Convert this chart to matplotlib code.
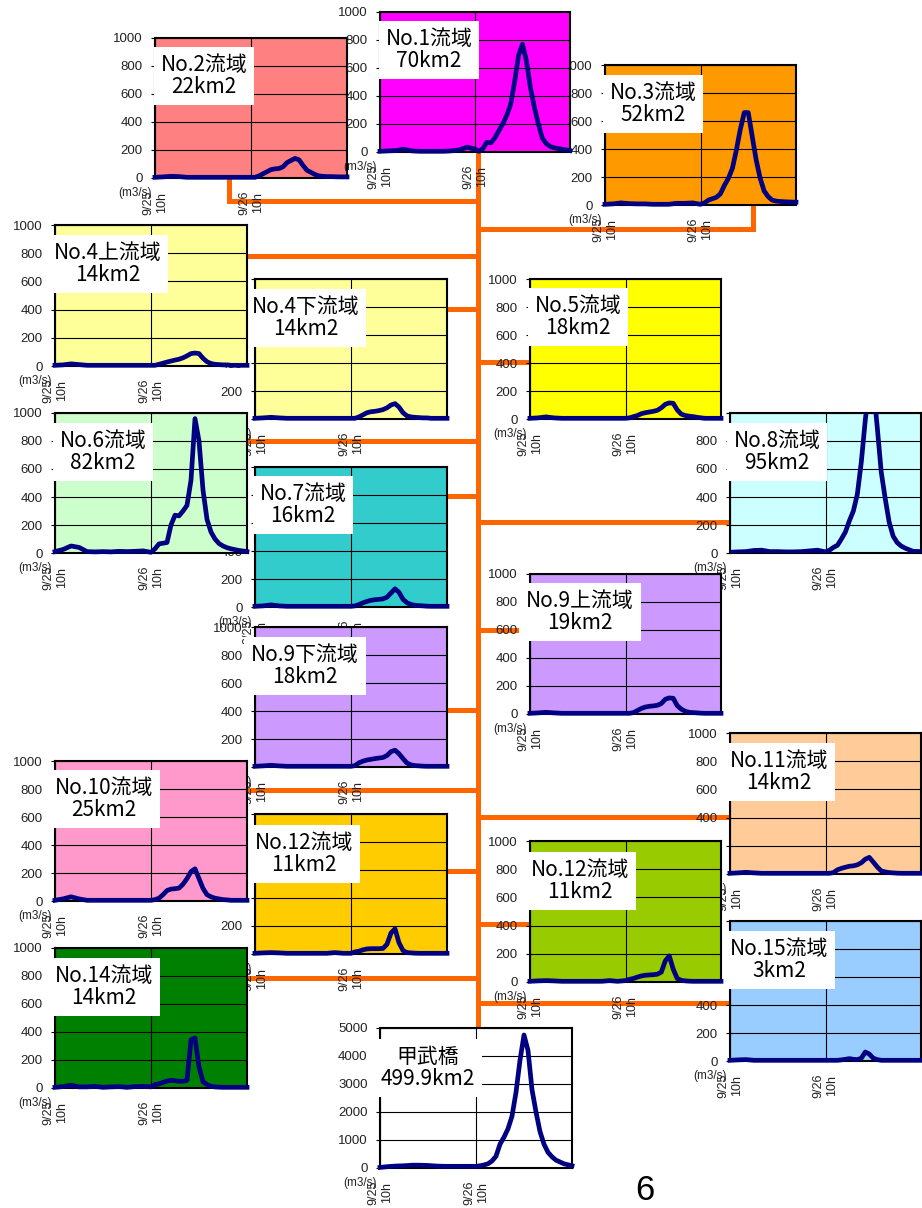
import numpy as np
import matplotlib
matplotlib.use("Agg")
import matplotlib.pyplot as plt

plt.rcParams['font.family'] = ['Liberation Sans', 'Noto Sans CJK JP', 'DejaVu Sans']

# ---------- data (hours from 9/25 10h, discharge m3/s) ----------
hours = [0, 2, 4, 6, 8, 10, 12, 14, 16, 18, 20, 22, 24,
         25, 26, 27, 28, 29, 30, 31, 32, 33, 34, 35, 36, 37, 38, 39, 40, 41, 42, 43, 44,
         46, 48]
xtick_pos = [0, 24, 48]
xtick_labels = ["9/25\n10h", "9/26\n10h", ""]

q_no1 = [5, 8, 10, 20, 8, 5, 5, 5, 5, 8, 15, 35, 20,
         5, 25, 70, 65, 100, 150, 200, 260, 340, 500, 690, 770, 650, 460, 320, 200, 100, 60, 40, 30,
         20, 10]
q_no2 = [5, 8, 12, 10, 5, 5, 5, 5, 5, 5, 5, 5, 5,
         5, 15, 30, 45, 60, 65, 68, 80, 110, 125, 140, 130, 90, 55, 40, 25, 15, 12, 10, 10,
         8, 8]
q_no3 = [5, 8, 15, 10, 8, 8, 5, 5, 5, 12, 12, 15, 5,
         15, 35, 45, 55, 80, 140, 190, 260, 390, 540, 660, 660, 490, 320, 190, 100, 60, 35, 28, 25,
         22, 20]
q_no4u = [5, 8, 15, 10, 5, 5, 5, 5, 5, 5, 5, 5, 5,
          5, 12, 20, 28, 35, 42, 48, 58, 72, 88, 92, 88, 55, 30, 18, 12, 10, 8, 8, 5,
          5, 5]
q_no4d = [5, 8, 12, 8, 5, 5, 5, 5, 5, 5, 5, 5, 5,
          5, 15, 30, 45, 52, 55, 60, 67, 80, 100, 110, 85, 45, 22, 15, 12, 10, 8, 8, 5,
          5, 5]
q_no5 = [5, 8, 15, 8, 5, 5, 5, 5, 5, 5, 5, 5, 5,
         8, 17, 25, 38, 45, 50, 55, 62, 80, 105, 115, 112, 65, 35, 25, 20, 17, 12, 8, 5,
         5, 5]
q_no6 = [10, 25, 50, 40, 10, 8, 10, 8, 12, 10, 12, 15, 5,
         30, 65, 70, 75, 200, 270, 265, 300, 340, 520, 960, 800, 450, 240, 150, 100, 68, 50, 38, 30,
         18, 10]
q_no7 = [5, 8, 15, 8, 5, 5, 5, 5, 5, 5, 5, 5, 5,
         8, 18, 30, 40, 48, 52, 55, 58, 70, 100, 130, 105, 55, 30, 18, 12, 10, 8, 6, 5,
         5, 5]
q_no8 = [5, 8, 10, 18, 20, 10, 10, 8, 8, 10, 15, 20, 8,
         20, 40, 55, 100, 150, 230, 300, 420, 650, 950, 1200, 1200, 900, 580, 390, 220, 120, 75, 50, 35,
         12, 10]
q_no9u = [5, 8, 12, 8, 5, 5, 5, 5, 5, 5, 5, 5, 5,
          5, 10, 25, 40, 50, 55, 58, 62, 75, 105, 115, 112, 60, 35, 20, 12, 10, 8, 6, 5,
          5, 5]
q_no9d = [5, 8, 12, 8, 5, 5, 5, 5, 5, 5, 5, 5, 5,
          10, 30, 42, 50, 55, 60, 64, 68, 82, 110, 120, 95, 60, 28, 15, 10, 8, 6, 5, 5,
          5, 5]
q_no10 = [5, 15, 30, 15, 5, 5, 5, 5, 5, 5, 5, 5, 5,
          10, 20, 45, 75, 85, 88, 92, 120, 160, 210, 230, 160, 90, 45, 30, 20, 15, 10, 8, 5,
          5, 5]
q_no11 = [5, 8, 12, 8, 5, 5, 5, 5, 5, 5, 5, 5, 5,
          5, 10, 30, 40, 48, 55, 58, 65, 80, 105, 118, 85, 50, 22, 15, 10, 8, 6, 5, 5,
          5, 5]
q_no12a = [5, 8, 10, 8, 5, 5, 5, 5, 5, 5, 10, 5, 5,
           15, 20, 30, 36, 38, 38, 38, 40, 70, 150, 180, 80, 25, 10, 8, 6, 5, 5, 5, 5,
           5, 5]
q_no12b = [5, 8, 10, 8, 5, 5, 5, 5, 5, 5, 10, 5, 10,
           19, 25, 35, 43, 48, 50, 52, 55, 70, 150, 185, 90, 25, 12, 8, 6, 5, 5, 5, 5,
           5, 5]
q_no14 = [5, 10, 20, 8, 8, 12, 5, 8, 10, 5, 10, 12, 8,
          24, 30, 40, 50, 55, 52, 48, 48, 55, 345, 357, 150, 45, 25, 12, 8, 6, 5, 5, 5,
          5, 5]
q_no15 = [5, 8, 10, 5, 5, 5, 5, 5, 5, 5, 5, 5, 5,
          5, 5, 5, 8, 12, 17, 12, 10, 20, 64, 50, 20, 10, 5, 5, 5, 5, 5, 5, 5,
          5, 5]
q_kobu = [20, 50, 70, 80, 100, 100, 90, 70, 60, 60, 60, 60, 60,
          80, 110, 150, 250, 420, 850, 1100, 1400, 1850, 2700, 3850, 4750, 4200, 2800, 2000, 1300, 850, 560, 400, 280,
          150, 80]

# ---------- layout (pixel boxes x0, y0, x1, y1; label centre) ----------
W, H = 922, 1208
trunk_x = 478

# drawing order matters: later panels hide earlier tick labels
panels = [
    ("No.2流域\n22km2", q_no2, "#FF8080", 1000, (155, 38, 347, 178), (204, 76)),
    ("No.3流域\n52km2", q_no3, "#FF9900", 1000, (605, 65, 796, 205), (653, 104)),
    ("No.1流域\n70km2", q_no1, "#FF00FF", 1000, (380, 12, 570, 152), (429, 50)),
    ("No.4下流域\n14km2", q_no4d, "#FFFF99", 1000, (255, 279, 447, 419), (306, 318)),
    ("No.4上流域\n14km2", q_no4u, "#FFFF99", 1000, (55, 225, 247, 366), (108, 264)),
    ("No.7流域\n16km2", q_no7, "#33CCCC", 1000, (255, 467, 447, 607), (303, 505)),
    ("No.6流域\n82km2", q_no6, "#CCFFCC", 1000, (55, 413, 247, 553), (103, 452)),
    ("No.9下流域\n18km2", q_no9d, "#CC99FF", 1000, (255, 627, 447, 767), (305, 666)),
    ("No.12流域\n11km2", q_no12a, "#FFCC00", 1000, (255, 814, 447, 954), (304, 854)),
    ("No.10流域\n25km2", q_no10, "#FF99CC", 1000, (55, 761, 247, 901), (104, 799)),
    ("No.14流域\n14km2", q_no14, "#008000", 1000, (55, 948, 247, 1088), (104, 987)),
    ("No.8流域\n95km2", q_no8, "#CCFFFF", 1000, (730, 413, 921, 553), (777, 452)),
    ("No.5流域\n18km2", q_no5, "#FFFF00", 1000, (530, 279, 721, 419), (578, 317)),
    ("No.9上流域\n19km2", q_no9u, "#CC99FF", 1000, (530, 574, 721, 714), (580, 612)),
    ("No.11流域\n14km2", q_no11, "#FFCC99", 1000, (730, 733, 921, 874), (779, 772)),
    ("No.15流域\n3km2", q_no15, "#99CCFF", 1000, (730, 921, 921, 1061), (779, 960)),
    ("No.12流域\n11km2", q_no12b, "#99CC00", 1000, (530, 841, 721, 982), (580, 881)),
    ("甲武橋\n499.9km2", q_kobu, "#FFFFFF", 5000, (380, 1028, 572, 1168), (428, 1068)),
]

# orange river network: segments in pixels
connectors = [
    ((trunk_x, 152), (trunk_x, 1028)),
    ((229, 178), (229, 201)), ((229, 201), (trunk_x, 201)),
    ((753, 205), (753, 229)), ((trunk_x, 229), (753, 229)),
    ((247, 256), (trunk_x, 256)),
    ((447, 309), (trunk_x, 309)),
    ((trunk_x, 362), (530, 362)),
    ((247, 441), (trunk_x, 441)),
    ((447, 496), (trunk_x, 496)),
    ((trunk_x, 522), (730, 522)),
    ((trunk_x, 630), (520, 630)),
    ((447, 710), (trunk_x, 710)),
    ((247, 790), (trunk_x, 790)),
    ((trunk_x, 817), (730, 817)),
    ((447, 871), (trunk_x, 871)),
    ((trunk_x, 924), (530, 924)),
    ((247, 978), (trunk_x, 978)),
    ((trunk_x, 1003), (730, 1003)),
]

fig = plt.figure(figsize=(W / 100, H / 100), dpi=100)
fig.patch.set_facecolor("white")


def box_to_fig(b):
    x0, y0, x1, y1 = b
    return [x0 / W, 1 - y1 / H, (x1 - x0) / W, (y1 - y0) / H]


# background layer for the connectors
bg = fig.add_axes([0, 0, 1, 1], zorder=0)
bg.set_xlim(0, W)
bg.set_ylim(H, 0)
bg.axis("off")
for (xa, ya), (xb, yb) in connectors:
    bg.plot([xa, xb], [ya, yb], color="#FF6600", lw=3.6, solid_capstyle="projecting")

for i, (label, q, color, ymax, box, centre) in enumerate(panels):
    ax = fig.add_axes(box_to_fig(box), zorder=i + 1)
    ax.set_facecolor(color)
    ax.plot(hours, q, color="#000080", lw=3.4, solid_joinstyle="round",
            clip_on=max(q) > ymax, zorder=3)
    ax.set_xlim(0, 48)
    ax.set_ylim(0, ymax)
    yt = np.arange(0, ymax + 1, ymax // 5)
    ax.set_yticks(yt)
    ax.set_yticklabels([str(v) for v in yt])
    ax.set_xticks(xtick_pos)
    ax.set_xticklabels(xtick_labels)
    for lbl in ax.get_xticklabels():
        lbl.set_rotation(90)
        lbl.set_multialignment("center")
        lbl.set_va("top")
        lbl.set_ha("center")
    ax.grid(True, color="black", lw=0.8)
    ax.set_axisbelow(True)
    ax.tick_params(axis="y", length=3, width=0.8, pad=6, labelsize=9.5, labelcolor="#222222")
    ax.tick_params(axis="x", length=0, pad=9, labelsize=9, labelcolor="#222222")
    for s in ax.spines.values():
        s.set_linewidth(1.5)
        s.set_color("black")

    x0, y0, x1, y1 = box
    fx = (centre[0] - x0) / (x1 - x0)
    fy = (y1 - centre[1]) / (y1 - y0)
    ax.text(fx, fy, label, transform=ax.transAxes, ha="center", va="center",
            fontsize=15, family=["Noto Sans CJK JP"], linespacing=1.05,
            multialignment="center", clip_on=False, zorder=5,
            bbox=dict(facecolor="white", edgecolor="none", boxstyle="square,pad=0.32"))
    ax.annotate("(m3/s)", xy=(0, 0), xycoords="axes fraction",
                xytext=(-20 * 0.72, -15 * 0.72), textcoords="offset points",
                ha="center", va="center", fontsize=8.5, color="#222222",
                annotation_clip=False)

fig.text(645 / W, 1 - 1190 / H, "6", fontsize=25, ha="center", va="center")

fig.savefig("out.png", dpi=100, facecolor="white")
